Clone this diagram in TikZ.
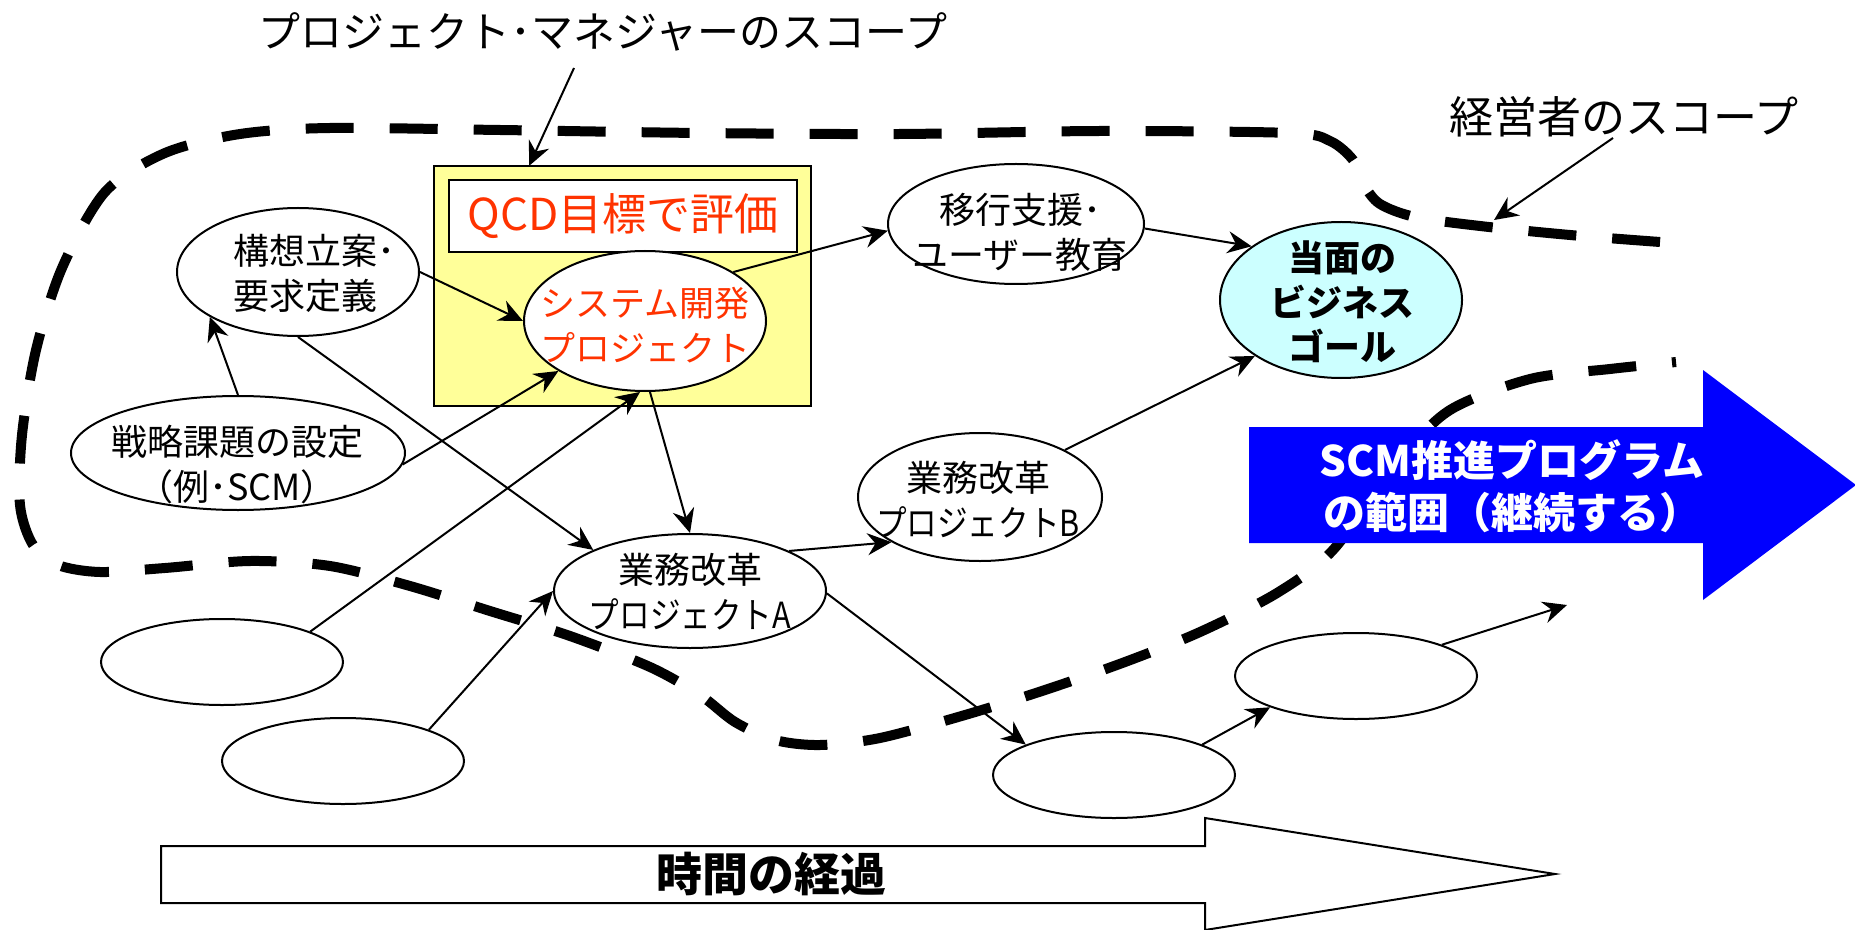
\documentclass[tikz,border=0pt]{standalone}
\usepackage{fontspec}
\usepackage{graphicx}
\setmainfont{Noto Sans CJK JP}
\usetikzlibrary{shapes.geometric,arrows.meta}
\definecolor{pmyellow}{HTML}{FFFF99}
\definecolor{goalcyan}{HTML}{CCFFFF}
\definecolor{redtxt}{HTML}{FF3300}
\definecolor{scmblue}{HTML}{0000FF}
\begin{document}
\begin{tikzpicture}[x=0.5pt,y=-0.5pt,
  ell/.style={draw, ellipse, line width=1pt, fill=white, inner sep=0pt},
  smallell/.style={ell, minimum width=121pt, minimum height=43pt},
  txt/.style={align=center, inner sep=0pt, font=\fontsize{18}{22.5}\selectfont},
  conn/.style={line width=1pt, -{Stealth[length=12pt,width=11pt,inset=4pt]}},
  scopeline/.style={line width=5pt, dash pattern=on 24pt off 18pt, line cap=butt},
  bigarrow/.style={line width=1pt, line join=miter},
]
\useasboundingbox (0,0) rectangle (1855,930);

% scope dashed curve
\draw[scopeline] plot[smooth, tension=0.5] coordinates {
 (1660,242) (1570,235) (1480,226) (1415,217) (1380,204) (1364,185) (1353,160)
 (1330,141) (1290,133) (1100,131) (900,134) (700,133) (500,130) (330,128)
 (240,134) (165,153) (105,192) (62,268) (36,350) (22,435) (20,505) (33,545)
 (58,565) (100,572) (165,568) (250,561) (330,566) (410,586) (490,611)
 (570,636) (650,667) (700,695) (735,722) (775,740) (820,745) (880,738)
 (965,715) (1045,690) (1125,662) (1200,632) (1277,593) (1333,550)
 (1400,460) (1450,410) (1530,379) (1610,369) (1676,362)};

% SCM program arrow
\fill[scmblue] (1249,427) -- (1703,427) -- (1703,370) -- (1856,485) -- (1703,600) -- (1703,543) -- (1249,543) -- cycle;
\node[txt, text=white, font=\fontsize{21}{26}\selectfont\bfseries] (scmtxt) at (1512,486) {SCM推進プログラム\\の範囲（継続する）};

% time arrow
\draw[bigarrow, fill=white] (161,846) -- (1205,846) -- (1205,818) -- (1555,874) -- (1205,930) -- (1205,903) -- (161,903) -- cycle;
\node[txt, font=\fontsize{23}{28}\selectfont\bfseries] (time) at (771,874) {時間の経過};

% PM box
\node[draw, fill=pmyellow, line width=1.3pt, minimum width=188.5pt, minimum height=120pt, inner sep=0pt] (pmbox) at (622.5,286) {};
\node[draw, fill=white, line width=1.3pt, minimum width=174pt, minimum height=36pt, inner sep=0pt,
      text=redtxt, font=\fontsize{22}{26}\selectfont] (qcd) at (623,216) {QCD目標で評価};

% ellipses
\node[ell, minimum width=121pt, minimum height=64pt] (kos) at (298,272) {};
\node[ell, minimum width=121pt, minimum height=70pt] (sys) at (645,321) {};
\node[ell, minimum width=167pt, minimum height=57pt] (sen) at (238,453) {};
\node[ell, minimum width=128pt, minimum height=60pt] (iko) at (1016,224) {};
\node[ell, fill=goalcyan, minimum width=121pt, minimum height=78pt] (goal) at (1341,300) {};
\node[ell, minimum width=122pt, minimum height=64pt] (gyoB) at (980,497) {};
\node[ell, minimum width=136pt, minimum height=57pt] (gyoA) at (690,591) {};
\node[smallell] (e1) at (222,662) {};
\node[smallell] (e2) at (343,761) {};
\node[smallell] (e3) at (1114,775) {};
\node[smallell] (e4) at (1356,676) {};

% texts
\node[txt, anchor=west, align=left] (kostxt) at (233,273) {構想立案･\\要求定義};
\node[txt, text=redtxt, font=\fontsize{17.5}{22.5}\selectfont] (systxt) at (645,325) {システム開発\\プロジェクト};
\node[txt] (sentxt) at (237,465) {戦略課題の設定\\（例･SCM）};
\node[txt] (ikotxt) at (1020,232) {移行支援･\\ユーザー教育};
\node[txt, font=\fontsize{18}{22.3}\selectfont\bfseries] (goaltxt) at (1342,302) {当面の\\ビジネス\\ゴール};
\node[txt] (gyoBtxt) at (978,500) {業務改革\\\scalebox{0.85}[1]{プロジェクトB}};
\node[txt] (gyoAtxt) at (690,592) {業務改革\\\scalebox{0.85}[1]{プロジェクトA}};

\node[inner sep=0pt, font=\fontsize{21}{25}\selectfont] (pmtitle) at (603,32) {プロジェクト･マネジャーのスコープ};
\node[inner sep=0pt, font=\fontsize{22}{26}\selectfont] (mgtitle) at (1624,117) {経営者のスコープ};

% free ends
\coordinate (pmfrom) at (574,68);
\coordinate (pmto) at (529,166);
\coordinate (mgfrom) at (1613,138);
\coordinate (mgto) at (1494,220);
\coordinate (e4to) at (1567,605);

% connectors
\draw[conn] (pmfrom) -- (pmto);
\draw[conn] (mgfrom) -- (mgto);
\draw[conn] (kos.0) -- (sys.180);
\draw[conn] (sen.90) -- (kos.207);
\draw[conn] (sen.356) -- (sys.210);
\draw[conn] (kos.270) -- (gyoA.157);
\draw[conn] (e1.19) -- (sys.266);
\draw[conn] (sys.274) -- (gyoA.90);
\draw[conn] (e2.20) -- (gyoA.180);
\draw[conn] (gyoA.22) -- (gyoB.207);
\draw[conn] (gyoA.359) -- (e3.161);
\draw[conn] (e3.19) -- (e4.200);
\draw[conn] (e4.20) -- (e4to);
\draw[conn] (gyoB.29) -- (goal.213);
\draw[conn] (iko.358) -- (goal.149);
\draw[conn] (sys.29) -- (iko.183);
\end{tikzpicture}
\end{document}
